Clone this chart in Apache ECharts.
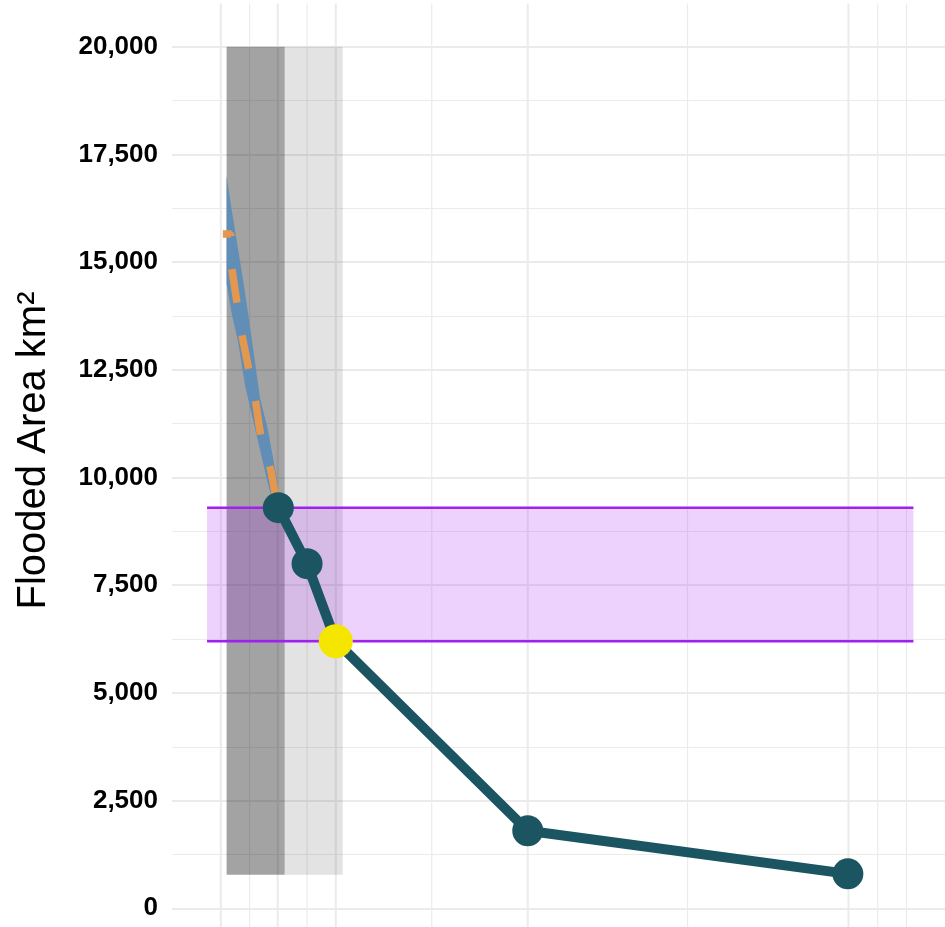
<!DOCTYPE html>
<html>
<head>
<meta charset="utf-8">
<script src="https://cdn.jsdelivr.net/npm/echarts@6/dist/echarts.min.js"></script>
<style>
  html, body { margin: 0; padding: 0; background: #fff; }
  #flood { width: 945px; height: 927px; }
</style>
</head>
<body>
<div id="flood"></div>
<script>
// x positions are in plot units (no labels shown on the x axis)
const xMajorBreaks = [0, 0.99, 2, 5.34, 10.92];
const xMinorBreaks = [0.5, 1.5, 3.67, 8.12, 11.43, 11.93];

// main series
const floodX = [1, 1.5, 2, 5.34, 10.91];
const floodArea = [9300, 8000, 6200, 1800, 800];
const highlightX = [2];
const highlightArea = [6200];

// blue uncertainty ribbon
const ribbonX = [0.1, 0.19, 0.3, 0.42, 0.54, 0.68, 0.82, 0.99];
const ribbonLow = [14500, 13800, 13150, 12150, 11450, 10650, 9850, 9000];
const ribbonHigh = [17000, 16200, 15300, 14300, 13200, 11850, 11100, 9850];

// orange dashed fit
const fitX = [0.035, 0.174, 0.191, 0.278, 0.374, 0.487, 0.609, 0.696, 0.87, 0.974];
const fitArea = [15650, 15650, 14850, 14080, 13260, 12500, 11730, 10940, 10170, 9410];

// grey shaded periods
const bandStart = [0.1, 1.11];
const bandEnd = [1.11, 2.12];
const bandBottom = 780;
const bandTop = 20000;

// purple reference range
const rangeLow = 6200;
const rangeHigh = 9300;
const rangeX = [-0.24, 12.05];

// y axis ticks
const yTickMin = 0;
const yTickMax = 20000;

var chart = echarts.init(document.getElementById("flood"));

function gridLines(breaks, width) {
  return {
    type: "custom",
    silent: true,
    z: 1,
    data: breaks.map(function (b) { return [b, 0]; }),
    renderItem: function (params, api) {
      var p0 = api.coord([api.value(0), 21000]);
      var p1 = api.coord([api.value(0), -1000]);
      return {
        type: "line",
        shape: { x1: p0[0], y1: p0[1], x2: p1[0], y2: p1[1] },
        style: { stroke: "#ebebeb", lineWidth: width },
      };
    },
  };
}

var bandColors = ["rgba(0,0,0,0.36)", "rgba(0,0,0,0.11)"];

chart.setOption({
  animation: false,
  backgroundColor: "#fff",
  grid: { left: 172, right: 0, top: -61, bottom: -89, outerBoundsMode: "none", containLabel: false },
  xAxis: {
    type: "value",
    min: -0.85,
    max: 12.6,
    axisLine: { show: false },
    axisTick: { show: false },
    axisLabel: { show: false },
    splitLine: { show: false },
  },
  yAxis: {
    type: "value",
    min: -2500,
    max: 22500,
    interval: 2500,
    name: "Flooded Area km²",
    nameLocation: "middle",
    nameGap: 118,
    nameTextStyle: {
      fontFamily: "Liberation Sans, Arial, sans-serif",
      fontSize: 40,
      color: "#000",
      padding: [0, 0, 0, 54],
    },
    axisLine: { show: false },
    axisTick: { show: false },
    axisLabel: {
      margin: 14,
      fontFamily: "Liberation Sans, Arial, sans-serif",
      fontSize: 26,
      fontWeight: "bold",
      color: "#000",
      formatter: function (v) {
        if (v < yTickMin || v > yTickMax) return "";
        return v.toLocaleString("en-US");
      },
    },
    splitLine: { lineStyle: { color: "#ebebeb", width: 2 } },
    minorTick: { show: false, splitNumber: 2 },
    minorSplitLine: { show: true, lineStyle: { color: "#ebebeb", width: 1.2 } },
  },
  series: [
    gridLines(xMajorBreaks, 2),
    gridLines(xMinorBreaks, 1.2),
    {
      // grey periods
      type: "custom",
      silent: true,
      z: 2,
      data: bandStart.map(function (s, i) { return [s, bandEnd[i], i]; }),
      renderItem: function (params, api) {
        var p0 = api.coord([api.value(0), bandTop]);
        var p1 = api.coord([api.value(1), bandBottom]);
        return {
          type: "rect",
          shape: { x: p0[0], y: p0[1], width: p1[0] - p0[0], height: p1[1] - p0[1] },
          style: { fill: bandColors[api.value(2)] },
        };
      },
    },
    {
      // purple range
      type: "custom",
      silent: true,
      z: 3,
      data: [[rangeX[0], rangeX[1], rangeLow, rangeHigh]],
      renderItem: function (params, api) {
        var tl = api.coord([api.value(0), api.value(3)]);
        var br = api.coord([api.value(1), api.value(2)]);
        return {
          type: "group",
          children: [
            {
              type: "rect",
              shape: { x: tl[0], y: tl[1], width: br[0] - tl[0], height: br[1] - tl[1] },
              style: { fill: "rgba(160,32,240,0.2)" },
            },
            {
              type: "line",
              shape: { x1: tl[0], y1: tl[1], x2: br[0], y2: tl[1] },
              style: { stroke: "#a020f0", lineWidth: 2.5 },
            },
            {
              type: "line",
              shape: { x1: tl[0], y1: br[1], x2: br[0], y2: br[1] },
              style: { stroke: "#a020f0", lineWidth: 2.5 },
            },
          ],
        };
      },
    },
    {
      // ribbon
      type: "custom",
      silent: true,
      z: 4,
      data: ribbonX.map(function (x, i) { return [x, ribbonLow[i], ribbonHigh[i]]; }),
      renderItem: function (params, api) {
        if (params.dataIndex !== 0) return null;
        var pts = [];
        for (var i = 0; i < ribbonX.length; i++) {
          pts.push(api.coord([ribbonX[i], ribbonHigh[i]]));
        }
        for (var j = ribbonX.length - 1; j >= 0; j--) {
          pts.push(api.coord([ribbonX[j], ribbonLow[j]]));
        }
        return {
          type: "polygon",
          shape: { points: pts },
          style: { fill: "#608eb6" },
        };
      },
    },
    {
      type: "line",
      z: 5,
      silent: true,
      symbol: "none",
      data: fitX.map(function (x, i) { return [x, fitArea[i]]; }),
      lineStyle: { color: "#e4974f", width: 7.5, type: [34, 33], dashOffset: 24 },
    },
    {
      type: "line",
      z: 6,
      silent: true,
      symbol: "circle",
      symbolSize: 31,
      data: floodX.map(function (x, i) { return [x, floodArea[i]]; }),
      lineStyle: { color: "#1b5562", width: 10 },
      itemStyle: { color: "#1b5562" },
    },
    {
      type: "scatter",
      z: 7,
      silent: true,
      symbolSize: 34,
      data: highlightX.map(function (x, i) { return [x, highlightArea[i]]; }),
      itemStyle: { color: "#f5e600", opacity: 1 },
    },
  ],
});
</script>
</body>
</html>
